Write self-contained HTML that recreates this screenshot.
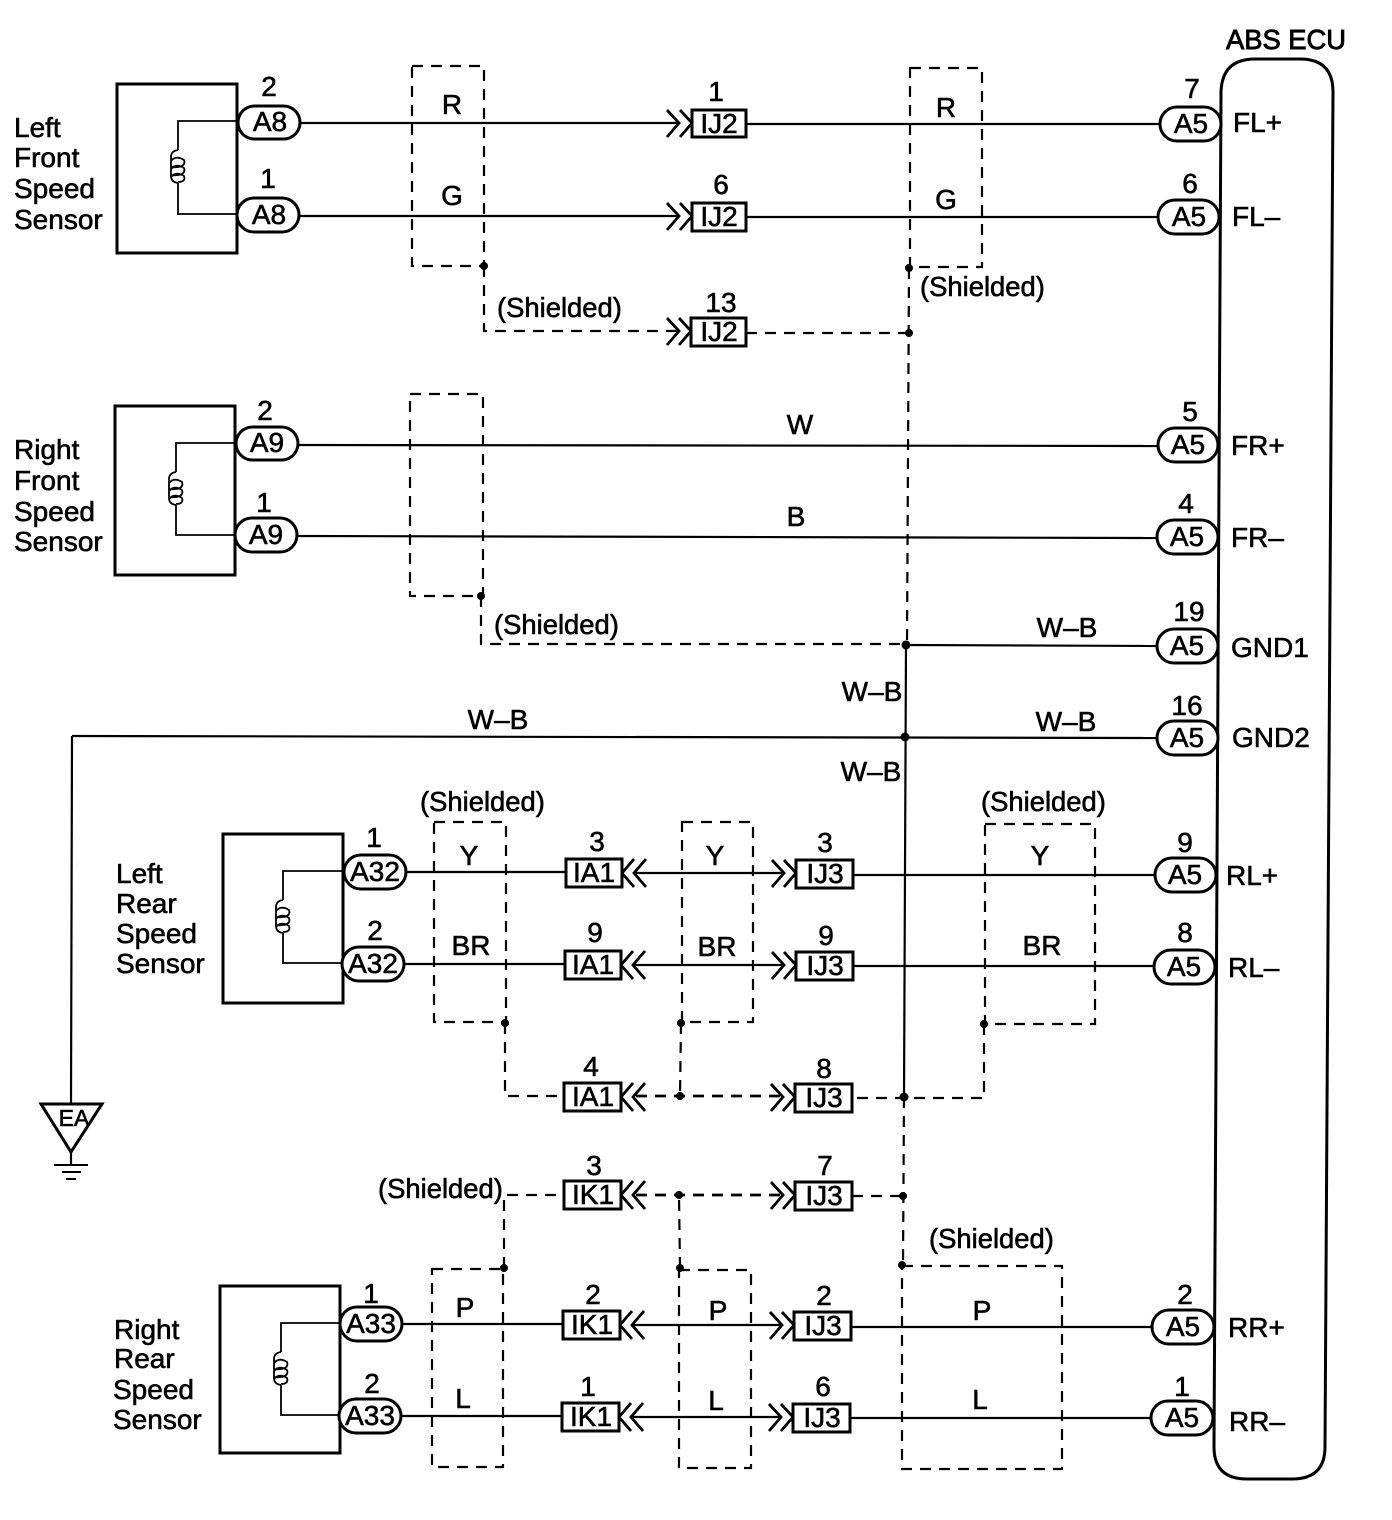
<!DOCTYPE html>
<html><head><meta charset="utf-8"><style>
html,body{margin:0;padding:0;background:#fff}
svg{display:block}
text{font-family:"Liberation Sans",sans-serif;font-size:28px;fill:#000;stroke:#000;stroke-width:.6px}
.m{text-anchor:middle}
.s{font-size:27.4px}
.l{fill:none;stroke:#000;stroke-width:2.2}
.t{fill:none;stroke:#000;stroke-width:1.8}
.b{fill:none;stroke:#000;stroke-width:3}
.d{fill:none;stroke:#000;stroke-width:2.2;stroke-dasharray:11 8}
.w{fill:#fff;stroke:#000;stroke-width:3}
.c{fill:none;stroke:#000;stroke-width:2.8}
</style></head><body>
<svg width="1392" height="1520" viewBox="0 0 1392 1520" xmlns="http://www.w3.org/2000/svg">
<rect width="1392" height="1520" fill="#fff"/>

<!-- ECU -->
<path class="b" d="M1221 92Q1222 59 1255 59L1300 59Q1333 59 1333 92L1325 1447Q1325 1479 1292 1479L1247 1479Q1214 1479 1214 1447Z"/>

<!-- sensors -->
<rect class="b" x="117" y="84" width="120" height="169"/>
<rect class="b" x="115" y="406" width="120" height="169"/>
<rect class="b" x="223" y="834" width="120" height="169"/>
<rect class="b" x="220" y="1286" width="120" height="167"/>
<path class="t" d="M237 121H178V150M178 183V214H237"/>
<path class="t" d="M235 443H176V472M176 505V535H235"/>
<path class="t" d="M343 871H283V900M283 933V963H343"/>
<path class="t" d="M340 1323H281V1352M281 1385V1415H340"/>
<g class="t">
<path d="M178 150Q171 151 171 157V176Q171 182 178 183M171 161Q176 155 184 160Q186 166 178 167T171 166M171 169Q176 163 184 168Q186 174 178 175T171 174M171 177Q176 171 184 176Q186 182 178 182"/>
<path d="M176 472Q169 473 169 479V498Q169 504 176 505M169 483Q174 477 182 482Q184 488 176 489T169 488M169 491Q174 485 182 490Q184 496 176 497T169 496M169 499Q174 493 182 498Q184 504 176 504"/>
<path d="M283 900Q276 901 276 907V926Q276 932 283 933M276 911Q281 905 289 910Q291 916 283 917T276 916M276 919Q281 913 289 918Q291 924 283 925T276 924M276 927Q281 921 289 926Q291 932 283 932"/>
<path d="M281 1352Q274 1353 274 1359V1378Q274 1384 281 1385M274 1363Q279 1357 287 1362Q289 1368 281 1369T274 1368M274 1371Q279 1365 287 1370Q289 1376 281 1377T274 1376M274 1379Q279 1373 287 1378Q289 1384 281 1384"/>
</g>

<!-- dashed shields -->
<g class="d">
<rect x="412" y="66" width="72" height="200"/>
<rect x="910" y="68" width="72" height="199"/>
<rect x="410" y="394" width="73" height="202"/>
<rect x="434" y="822" width="72" height="200"/>
<rect x="682" y="822" width="71" height="200"/>
<rect x="985" y="824" width="110" height="200"/>
<rect x="432" y="1269" width="71" height="198"/>
<rect x="679" y="1270" width="72" height="198"/>
<rect x="902" y="1266" width="160" height="203"/>
<path d="M484 266V331H680"/>
<path d="M746 333H909"/>
<path d="M909 268L907 645"/>
<path d="M481 596V644H906"/>
<path d="M505 1023V1096H565"/>
<path d="M681 1023L680 1096"/>
<path d="M904 1097L903 1265"/>
<path d="M504 1268V1195H564"/>
<path d="M680 1268L679 1195"/>
<path d="M984 1024V1098H853"/>
<path d="M852 1196H903"/>
</g>
<g class="d" style="stroke-width:2.8">
<path d="M636 1096H782"/>
<path d="M636 1195H782"/>
</g>

<!-- solid wires -->
<g class="l">
<path d="M300 123H680"/><path d="M746 124H1160"/>
<path d="M299 216H680"/><path d="M746 217H1158"/>
<path d="M298 445L1158 446"/>
<path d="M297 536L1158 538"/>
<path d="M906 645L1158 646"/>
<path d="M72 736L1158 738"/>
<path d="M72 736L71 1104"/>
<path d="M906 645L904 1097"/>
<path d="M406 872H566"/><path d="M634 873H784"/><path d="M853 875H1155"/>
<path d="M404 964H565"/><path d="M633 965H784"/><path d="M853 966H1154"/>
<path d="M402 1324H563"/><path d="M632 1325H782"/><path d="M851 1327H1152"/>
<path d="M401 1416H562"/><path d="M631 1417H781"/><path d="M850 1418H1151"/>
</g>

<!-- chevrons -->
<g class="c">
<path d="M667 110L679 123L667 137M680 110L692 123L680 137"/>
<path d="M667 203L679 216L667 230M680 203L692 216L680 230"/>
<path d="M667 318L679 331L667 345M679 318L691 331L679 345"/>
<path d="M634 859L622 873L634 887M646 859L634 873L646 887"/>
<path d="M784 860L796 873L784 887M772 860L784 873L772 887"/>
<path d="M633 951L621 965L633 979M645 951L633 965L645 979"/>
<path d="M784 952L796 965L784 979M772 952L784 965L772 979"/>
<path d="M633 1083L621 1097L633 1111M645 1083L633 1097L645 1111"/>
<path d="M783 1084L795 1097L783 1111M771 1084L783 1097L771 1111"/>
<path d="M633 1181L621 1195L633 1209M645 1181L633 1195L645 1209"/>
<path d="M783 1182L795 1195L783 1209M771 1182L783 1195L771 1209"/>
<path d="M632 1311L620 1325L632 1339M644 1311L632 1325L644 1339"/>
<path d="M782 1312L794 1325L782 1339M770 1312L782 1325L770 1339"/>
<path d="M631 1403L619 1417L631 1431M643 1403L631 1417L643 1431"/>
<path d="M781 1404L793 1417L781 1431M769 1404L781 1417L769 1431"/>
</g>

<!-- boxes -->
<g class="w">
<rect x="692" y="110" width="54" height="27"/>
<rect x="692" y="203" width="54" height="28"/>
<rect x="691" y="318" width="55" height="28"/>
<rect x="566" y="859" width="56" height="28"/>
<rect x="796" y="860" width="57" height="28"/>
<rect x="565" y="951" width="56" height="28"/>
<rect x="796" y="952" width="57" height="28"/>
<rect x="564" y="1083" width="57" height="28"/>
<rect x="795" y="1084" width="57" height="28"/>
<rect x="564" y="1181" width="57" height="28"/>
<rect x="795" y="1182" width="57" height="28"/>
<rect x="563" y="1311" width="57" height="28"/>
<rect x="794" y="1312" width="57" height="28"/>
<rect x="562" y="1403" width="57" height="28"/>
<rect x="793" y="1404" width="57" height="28"/>
</g>

<!-- pills -->
<g class="w">
<rect x="238" y="106" width="62" height="33" rx="16.5"/>
<rect x="237" y="198" width="62" height="34" rx="17"/>
<rect x="236" y="427" width="62" height="33" rx="16.5"/>
<rect x="235" y="518" width="62" height="34" rx="17"/>
<rect x="344" y="855" width="62" height="34" rx="17"/>
<rect x="342" y="947" width="62" height="34" rx="17"/>
<rect x="340" y="1307" width="62" height="34" rx="17"/>
<rect x="339" y="1399" width="62" height="34" rx="17"/>
<rect x="1160" y="107" width="61" height="34" rx="17"/>
<rect x="1158" y="200" width="61" height="34" rx="17"/>
<rect x="1158" y="428" width="60" height="34" rx="17"/>
<rect x="1157" y="520" width="61" height="34" rx="17"/>
<rect x="1157" y="629" width="61" height="34" rx="17"/>
<rect x="1157" y="721" width="61" height="34" rx="17"/>
<rect x="1155" y="858" width="61" height="34" rx="17"/>
<rect x="1154" y="950" width="61" height="34" rx="17"/>
<rect x="1152" y="1310" width="62" height="34" rx="17"/>
<rect x="1151" y="1401" width="62" height="34" rx="17"/>
</g>

<!-- dots -->
<g fill="#000">
<circle cx="484" cy="266" r="4"/><circle cx="909" cy="268" r="4"/><circle cx="909" cy="333" r="4"/>
<circle cx="481" cy="596" r="4"/><circle cx="906" cy="645" r="4.5"/><circle cx="905" cy="737" r="4.5"/>
<circle cx="505" cy="1023" r="4"/><circle cx="681" cy="1023" r="4"/><circle cx="984" cy="1024" r="4"/>
<circle cx="680" cy="1096" r="4"/><circle cx="904" cy="1097" r="4.5"/>
<circle cx="679" cy="1195" r="4"/><circle cx="903" cy="1196" r="4"/>
<circle cx="504" cy="1268" r="4"/><circle cx="680" cy="1268" r="4"/><circle cx="902" cy="1265" r="4"/>
</g>

<!-- ground -->
<path class="b" d="M41 1104H102L71 1152Z" fill="none"/>
<path class="l" d="M71 1152V1165"/>
<path class="b" d="M54 1165H88M62 1172H81M66 1179H76" style="stroke-width:2"/>
<text x="74" y="1126" class="m" style="font-size:23px">EA</text>

<!-- sensor names -->
<text x="14" y="137">Left</text><text x="14" y="167">Front</text><text x="14" y="198">Speed</text><text x="14" y="229">Sensor</text>
<text x="14" y="459">Right</text><text x="14" y="490">Front</text><text x="14" y="521">Speed</text><text x="14" y="551">Sensor</text>
<text x="116" y="883">Left</text><text x="116" y="913">Rear</text><text x="116" y="943">Speed</text><text x="116" y="973">Sensor</text>
<text x="114" y="1339">Right</text><text x="114" y="1368">Rear</text><text x="113" y="1399">Speed</text><text x="113" y="1429">Sensor</text>

<!-- ECU labels -->
<text x="1226" y="49" style="stroke-width:.9px" textLength="120" lengthAdjust="spacingAndGlyphs">ABS ECU</text>
<text x="1233" y="132">FL+</text><text x="1232" y="226">FL–</text>
<text x="1231" y="455">FR+</text><text x="1231" y="547">FR–</text>
<text x="1231" y="657">GND1</text><text x="1232" y="747">GND2</text>
<text x="1226" y="885">RL+</text><text x="1228" y="977">RL–</text>
<text x="1228" y="1337">RR+</text><text x="1229" y="1431">RR–</text>

<!-- pill labels -->
<g class="m">
<text x="270" y="131" class="m">A8</text><text x="269" y="224" class="m">A8</text>
<text x="267" y="452" class="m">A9</text><text x="266" y="544" class="m">A9</text>
<text x="375" y="881" class="m">A32</text><text x="373" y="973" class="m">A32</text>
<text x="371" y="1333" class="m">A33</text><text x="370" y="1425" class="m">A33</text>
<text x="1191" y="133" class="m">A5</text><text x="1189" y="226" class="m">A5</text>
<text x="1188" y="454" class="m">A5</text><text x="1187" y="546" class="m">A5</text>
<text x="1187" y="655" class="m">A5</text><text x="1187" y="747" class="m">A5</text>
<text x="1185" y="884" class="m">A5</text><text x="1184" y="976" class="m">A5</text>
<text x="1183" y="1336" class="m">A5</text><text x="1182" y="1427" class="m">A5</text>
</g>

<!-- box labels -->
<text x="719" y="133" class="m">IJ2</text><text x="719" y="226" class="m">IJ2</text><text x="719" y="341" class="m">IJ2</text>
<text x="594" y="882" class="m">IA1</text><text x="825" y="883" class="m">IJ3</text>
<text x="593" y="974" class="m">IA1</text><text x="825" y="975" class="m">IJ3</text>
<text x="593" y="1106" class="m">IA1</text><text x="824" y="1107" class="m">IJ3</text>
<text x="593" y="1204" class="m">IK1</text><text x="824" y="1205" class="m">IJ3</text>
<text x="592" y="1334" class="m">IK1</text><text x="823" y="1335" class="m">IJ3</text>
<text x="591" y="1426" class="m">IK1</text><text x="822" y="1427" class="m">IJ3</text>

<!-- pin numbers -->
<text x="269" y="96" class="m">2</text><text x="268" y="188" class="m">1</text>
<text x="265" y="420" class="m">2</text><text x="264" y="512" class="m">1</text>
<text x="374" y="847" class="m">1</text><text x="375" y="940" class="m">2</text>
<text x="371" y="1303" class="m">1</text><text x="372" y="1393" class="m">2</text>
<text x="716" y="101" class="m">1</text><text x="721" y="194" class="m">6</text><text x="721" y="312" class="m">13</text>
<text x="1192" y="98" class="m">7</text><text x="1190" y="193" class="m">6</text>
<text x="1190" y="421" class="m">5</text><text x="1186" y="513" class="m">4</text>
<text x="1189" y="621" class="m">19</text><text x="1187" y="715" class="m">16</text>
<text x="1185" y="852" class="m">9</text><text x="1185" y="942" class="m">8</text>
<text x="1185" y="1304" class="m">2</text><text x="1182" y="1396" class="m">1</text>
<text x="597" y="851" class="m">3</text><text x="825" y="852" class="m">3</text>
<text x="595" y="942" class="m">9</text><text x="826" y="945" class="m">9</text>
<text x="591" y="1076" class="m">4</text><text x="824" y="1078" class="m">8</text>
<text x="594" y="1175" class="m">3</text><text x="825" y="1175" class="m">7</text>
<text x="593" y="1304" class="m">2</text><text x="824" y="1305" class="m">2</text>
<text x="588" y="1396" class="m">1</text><text x="823" y="1396" class="m">6</text>

<!-- wire colours -->
<text x="452" y="114" class="m">R</text><text x="946" y="117" class="m">R</text>
<text x="452" y="205" class="m">G</text><text x="946" y="209" class="m">G</text>
<text x="800" y="434" class="m">W</text><text x="796" y="526" class="m">B</text>
<text x="1067" y="637" class="m">W–B</text><text x="872" y="701" class="m">W–B</text>
<text x="498" y="729" class="m">W–B</text><text x="1066" y="731" class="m">W–B</text>
<text x="871" y="781" class="m">W–B</text>
<text x="469" y="865" class="m">Y</text><text x="715" y="865" class="m">Y</text><text x="1040" y="865" class="m">Y</text>
<text x="471" y="955" class="m">BR</text><text x="717" y="956" class="m">BR</text><text x="1042" y="955" class="m">BR</text>
<text x="465" y="1317" class="m">P</text><text x="718" y="1320" class="m">P</text><text x="982" y="1320" class="m">P</text>
<text x="463" y="1408" class="m">L</text><text x="716" y="1410" class="m">L</text><text x="980" y="1409" class="m">L</text>

<!-- shielded labels -->
<text class="s" x="497" y="317">(Shielded)</text>
<text class="s" x="920" y="296">(Shielded)</text>
<text class="s" x="494" y="634">(Shielded)</text>
<text class="s" x="420" y="811">(Shielded)</text>
<text class="s" x="981" y="811">(Shielded)</text>
<text class="s" x="378" y="1198">(Shielded)</text>
<text class="s" x="929" y="1248">(Shielded)</text>
</svg>
</body></html>
